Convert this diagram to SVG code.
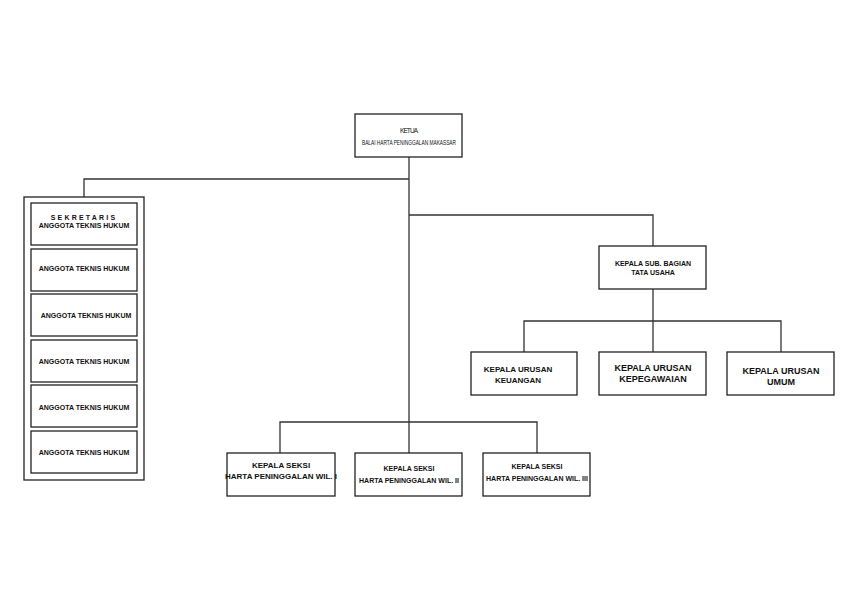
<svg xmlns="http://www.w3.org/2000/svg" width="853" height="605" viewBox="0 0 853 605">
<style>
rect{fill:#fff;stroke:#222;stroke-width:1.3}
.c path{fill:none;stroke:#333;stroke-width:1.3}
text{font-family:"Liberation Sans",Arial,sans-serif;font-weight:bold;font-size:7px;text-anchor:middle;fill:#111}
.n{font-weight:normal;font-size:6.5px}
.b{font-size:9px}
.m{font-size:8px}
</style>
<rect width="853" height="605" style="fill:#fff;stroke:none"/>
<g class="c">
<path d="M409 157V422M409 179H84V197M409 215H653V246M653 289V321M524 352V321H781V352M653 321V352M280 453V422H537V453M409 422V453"/>
</g>
<g id="ketua"><rect x="355" y="114" width="107" height="43"/><text class="n" x="409" y="133" textLength="18">KETUA</text><text class="n" x="409" y="145" textLength="94" lengthAdjust="spacingAndGlyphs">BALAI HARTA PENINGGALAN MAKASSAR</text></g>
<g id="sekretariat"><rect x="24" y="197" width="120" height="283"/></g>
<g id="sek"><rect x="31" y="203" width="106" height="42"/><text x="84" y="220" letter-spacing="2.2">SEKRETARIS</text><text x="84" y="228">ANGGOTA TEKNIS HUKUM</text></g>
<g id="a1"><rect x="31" y="249" width="106" height="42"/><text x="84" y="271">ANGGOTA TEKNIS HUKUM</text></g>
<g id="a2"><rect x="31" y="294" width="106" height="42"/><text x="86" y="318">ANGGOTA TEKNIS HUKUM</text></g>
<g id="a3"><rect x="31" y="340" width="106" height="42"/><text x="84" y="364">ANGGOTA TEKNIS HUKUM</text></g>
<g id="a4"><rect x="31" y="385" width="106" height="42"/><text x="84" y="410">ANGGOTA TEKNIS HUKUM</text></g>
<g id="a5"><rect x="31" y="431" width="106" height="42"/><text x="84" y="455">ANGGOTA TEKNIS HUKUM</text></g>
<g id="tu"><rect x="599" y="246" width="107" height="43"/><text x="653" y="266">KEPALA SUB. BAGIAN</text><text x="653" y="275">TATA USAHA</text></g>
<g id="keu"><rect x="471" y="352" width="106" height="43"/><text class="m" x="518" y="372">KEPALA URUSAN</text><text class="m" x="518" y="383">KEUANGAN</text></g>
<g id="kep"><rect x="599" y="352" width="107" height="43"/><text class="b" x="653" y="371">KEPALA URUSAN</text><text class="b" x="653" y="382">KEPEGAWAIAN</text></g>
<g id="umum"><rect x="727" y="352" width="107" height="43"/><text class="b" x="781" y="374">KEPALA URUSAN</text><text class="b" x="781" y="385">UMUM</text></g>
<g id="w1"><rect x="227" y="453" width="108" height="43"/><text class="m" x="281" y="468">KEPALA SEKSI</text><text class="m" x="281" y="479">HARTA PENINGGALAN WIL. I</text></g>
<g id="w2"><rect x="355" y="453" width="107" height="43"/><text x="409" y="471">KEPALA SEKSI</text><text x="409" y="483">HARTA PENINGGALAN WIL. II</text></g>
<g id="w3"><rect x="483" y="453" width="107" height="43"/><text x="537" y="469">KEPALA SEKSI</text><text x="537" y="481">HARTA PENINGGALAN WIL. III</text></g>
</svg>
